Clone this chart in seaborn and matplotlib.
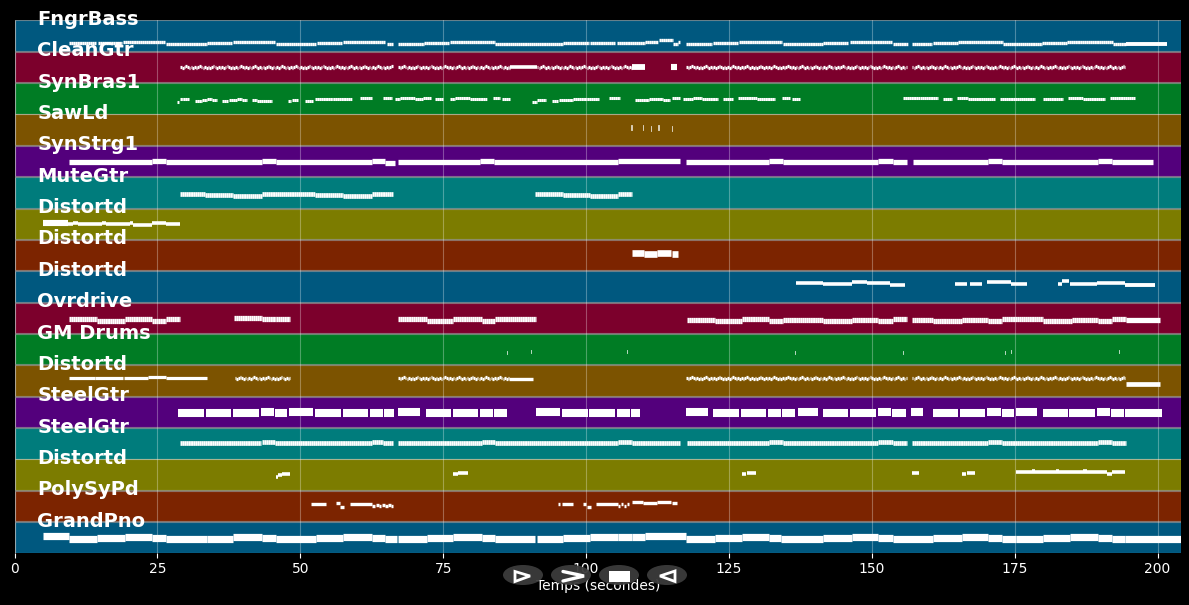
import matplotlib
matplotlib.use("Agg")
import matplotlib.pyplot as plt
from matplotlib.patches import Ellipse, Polygon, Rectangle
import pandas as pd
import seaborn as sns

# track names, top to bottom
track_names = ["FngrBass", "CleanGtr", "SynBras1", "SawLd", "SynStrg1", "MuteGtr", "Distortd", "Distortd",
               "Distortd", "Ovrdrive", "GM Drums", "Distortd", "SteelGtr", "SteelGtr", "Distortd",
               "PolySyPd", "GrandPno"]
band_colors = ["#00587f", "#7c002c", "#007c24", "#7c5300", "#53007c", "#007c7c", "#7c7c00", "#7c2400"]
time_ticks = [0, 25, 50, 75, 100, 125, 150, 175, 200]
song_end = 204.1

# notes: (start s, end s, pitch)
fngrbass = [(9.6, 14.2, 8), (14.6, 18.8, 8), (19.0, 26.3, 9), (26.5, 33.7, 7), (33.7, 38.1, 8), (38.2, 45.6, 9),
            (45.8, 52.8, 7), (52.9, 57.3, 8), (57.5, 64.8, 9), (65.2, 66.2, 7.6), (67.1, 71.7, 7), (71.7, 76, 8),
            (76.2, 84.1, 9), (84.1, 96, 7), (96, 100.5, 8), (100.7, 105.1, 8.5), (105.4, 110.3, 8.5),
            (110.3, 112.6, 9.7), (112.8, 115.2, 11.3), (115.2, 116.1, 7.3), (116.1, 116.5, 9), (117.5, 122.1, 7),
            (122.2, 126.6, 8), (126.8, 134.3, 9), (134.5, 141.5, 7), (141.5, 145.9, 8), (146.2, 153.5, 9),
            (153.7, 156.4, 7), (157, 160.6, 7), (160.7, 165, 8), (165.1, 173, 9), (173, 179.8, 7), (179.8, 184.2, 8),
            (184.2, 192.2, 9), (192.2, 194.5, 7)]
sawld = [(28.4, 28.8, 12.5), (29, 29.5, 15.5), (29.5, 30.5, 15), (31.6, 32.8, 13), (32.8, 33.7, 14),
         (33.7, 34.6, 15.5), (34.6, 35.4, 14.5), (36.3, 37.4, 13), (37.5, 38.9, 14), (38.9, 39.8, 15.5),
         (39.8, 40.7, 14.5), (41.6, 42.4, 14.5), (42.4, 43.5, 13.5), (43.5, 45, 13), (47.9, 48.4, 13),
         (48.6, 49.6, 14.5), (50.8, 52.2, 13.5), (52.6, 55.7, 15.5), (55.7, 59, 15), (60.5, 62.6, 16.3),
         (64.5, 66.1, 16), (66.6, 67.5, 15), (67.5, 70.1, 16.3), (70.1, 71.5, 15.5), (71.5, 72.9, 16.3),
         (73.6, 75, 15), (76.2, 77.1, 15.5), (77.1, 79.7, 16.5), (79.7, 82.7, 15.5), (83.7, 85, 16.5),
         (85.3, 86.7, 15.5), (90.6, 91.4, 12.5), (91.4, 93, 14.5), (94.1, 95.1, 13), (95.3, 97.7, 14.5),
         (97.7, 100.2, 15), (100.2, 102.3, 15.5), (104, 105.9, 16), (108.6, 111, 14.5), (111, 113.5, 15),
         (113.5, 114.7, 14.5), (115, 116.5, 16), (117, 118.7, 15.5), (118.7, 120.3, 16.5), (120.3, 123.1, 15),
         (124, 125.7, 15), (126.6, 129.9, 16), (129.9, 133, 15), (134.3, 135.7, 16), (136, 137.4, 15.5),
         (155.5, 158.5, 15.7), (158.5, 161.6, 15.7), (162.5, 164, 15.2), (164.9, 166.9, 15.7), (166.9, 171.6, 15.2),
         (172.4, 178.6, 15.5), (180, 183.5, 15.2), (184.4, 187, 15.7), (187, 190.8, 15.2), (191.7, 196.1, 15.7)]
synstrg = [(107.9, 108.2, 17.4), (110, 110.2, 17), (111.4, 111.6, 16), (112.6, 112.9, 17), (115.1, 115.3, 16)]
mutegtr = [(9.5, 24.1, 14.5), (24.1, 26.5, 16), (26.5, 43.3, 14.5), (43.3, 45.8, 16), (45.8, 62.6, 14.5),
           (62.6, 64.8, 16), (64.8, 66.6, 14), (67.1, 81.5, 14.5), (81.5, 83.9, 16), (83.9, 105.6, 14.5),
           (105.6, 116.5, 16), (117.5, 132, 14.5), (132, 134.5, 16), (134.5, 151.1, 14.5), (151.1, 153.7, 16),
           (153.7, 156.2, 14.5), (157.2, 170.4, 14.5), (170.4, 172.8, 16), (172.8, 189.6, 14.5), (189.6, 192.1, 16),
           (192.1, 199.2, 14.5)]
distortd_a = [(29, 33.3, 13.8), (33.3, 38.2, 13.2), (38.2, 43.3, 12.4), (43.3, 52.6, 13.8), (52.6, 57.5, 13.2),
              (57.5, 62.6, 12.4), (62.6, 66.2, 13.8), (91.1, 96, 13.8), (96, 100.7, 13.2), (100.7, 105.6, 12.4),
              (105.6, 108, 13.8)]
distortd_b = [(9.4, 10.3, 15), (10.3, 11.1, 16), (11.1, 15.3, 15), (15.3, 16, 16), (16, 20.2, 15), (20.2, 20.7, 16),
              (20.7, 24.1, 14.8), (24.1, 26.5, 16), (26.5, 29, 15)]
distortd_c = [(108, 110.1, 17.5), (110.1, 112.4, 16.8), (112.4, 114.9, 18), (115.1, 116.1, 16.8)]
ovrdrive = [(136.7, 141.5, 18.8), (141.5, 146.6, 18.1), (146.6, 149.2, 20.4), (149.2, 153.2, 18.8),
            (153.2, 155.8, 17.1), (164.6, 166.7, 17.8), (167.2, 169.3, 18), (170.2, 174.4, 19.8), (174.4, 177.2, 17.8),
            (182.6, 183.3, 17.8), (183.3, 184.5, 21), (184.7, 186.5, 17.8), (186.5, 189.4, 18.1), (189.4, 194.3, 18.8)]
gm_drums = [(9.5, 14.4, 14.2), (14.4, 19.3, 12.5), (19.3, 24.1, 14.2), (24.1, 26.5, 12.5), (26.5, 29, 14.5),
            (38.4, 43.3, 15.8), (43.3, 45.8, 14.5), (45.8, 48.2, 14.2), (67.1, 72.2, 14.2), (72.2, 76.7, 12.5),
            (76.7, 81.8, 14.2), (81.8, 84.1, 12.5), (84.1, 91.3, 14.5), (117.7, 122.6, 14), (122.6, 127.3, 12.5),
            (127.3, 132, 14.2), (132, 134.5, 12.5), (134.5, 141.5, 14), (141.5, 146.6, 12.5), (146.6, 151.1, 13.5),
            (151.1, 153.7, 12.5), (153.7, 156.2, 14.2), (157, 160.7, 13.5), (160.7, 165.8, 12.5), (165.8, 170.4, 13.5),
            (170.4, 172.8, 12.5), (172.8, 180, 14.2), (180, 185, 12.5), (185, 189.6, 13.5), (189.6, 192.1, 12.5),
            (192.1, 194.5, 14.2)]
distortd_d = [(86.2, 86.4, 12), (90.4, 90.6, 12.4), (107.2, 107.4, 12.4), (136.6, 136.8, 12), (155.5, 155.7, 12),
              (173.3, 173.5, 12), (174.4, 174.6, 12.8), (193.3, 193.5, 12.4)]
steelgtr_a = [(9.5, 14, 18), (14.1, 19, 18), (19.2, 23.4, 18), (23.4, 26.5, 19), (26.5, 33.7, 18)]
steelgtr_b = [(28.6, 33.2, 14.2), (33.5, 37.9, 14.2), (38.2, 42.8, 14.2), (43.1, 45.4, 15.2), (45.6, 47.7, 15),
              (48, 52.2, 15.8), (52.6, 57.1, 14.2), (57.5, 61.9, 14.2), (62.2, 64.5, 15), (64.7, 66.4, 15),
              (67.1, 71, 15.8), (72, 76.4, 14.5), (76.7, 81.1, 14.5), (81.5, 83.7, 14.8), (83.9, 86.2, 14.8),
              (91.3, 95.5, 15.8), (95.8, 100.4, 14.5), (100.5, 105.1, 14.5), (105.4, 107.7, 14.8), (107.9, 109.5, 14.5),
              (117.5, 121.4, 15.8), (122.2, 126.8, 14.5), (127.1, 131.5, 14.5), (131.9, 134.1, 14.8), (134.3, 136.6, 14.8),
              (137, 140.5, 15.8), (141.5, 145.9, 14.5), (146.2, 150.8, 14.5), (151.1, 153.4, 15.3), (153.6, 155.9, 15),
              (156.9, 159, 15.8), (160.7, 165.1, 14.5), (165.4, 169.8, 14.5), (170.2, 172.6, 15.3), (172.8, 174.9, 15),
              (175.3, 178.9, 15.8), (180, 184.4, 14.5), (184.5, 189.1, 14.5), (189.4, 191.7, 15.3), (191.9, 194.2, 15),
              (194.3, 200.8, 14.5)]
distortd_e = [(29, 43.1, 15.6), (43.3, 45.6, 17), (45.6, 62.6, 15.6), (62.6, 64.5, 17.2), (64.5, 66.2, 15.6),
              (67.1, 81.8, 15.6), (81.8, 84.1, 17.2), (84.1, 105.6, 15.6), (105.6, 108, 17.2), (108, 116.5, 15.6),
              (117.7, 132, 15.6), (132, 134.5, 17.2), (134.5, 151.1, 15.6), (151.1, 153.7, 17.2), (153.7, 156.2, 15.6),
              (157, 170.4, 15.6), (170.4, 172.8, 17.2), (172.8, 189.6, 15.6), (189.6, 192.1, 17.2), (192.1, 194.5, 15.6)]
polysypd = [(45.8, 46.1, 13.2), (46.1, 46.8, 15), (46.8, 48.2, 16), (76.7, 77.6, 16), (77.6, 79.4, 17.2),
            (127.3, 128, 16), (128.2, 129.8, 17.2), (157, 158.2, 17), (165.8, 166.5, 16), (166.7, 168.1, 17.2),
            (175.3, 178.1, 18), (178, 178.6, 18.8), (178.1, 182.5, 18), (182.3, 182.8, 18.8), (182.5, 187, 18),
            (187, 187.6, 18.8), (187, 191.2, 18), (191.2, 192.1, 16.6), (192.1, 194.3, 18)]
distortd_f = [(51.9, 54.5, 17.6), (56.3, 57, 18.3), (57, 57.7, 14.9), (58.7, 62.6, 17.6), (62.6, 63.1, 15.5),
              (63.2, 63.7, 17), (63.8, 64.2, 15.5), (64.3, 64.8, 17), (64.9, 65.3, 15.5), (65.4, 65.8, 17),
              (65.8, 66.2, 16), (95.1, 95.5, 17.3), (95.8, 97.7, 17.3), (99.5, 100, 17.3), (100.2, 100.9, 14.9),
              (101.7, 105.6, 17.3), (105.6, 106, 15.5), (106.1, 106.5, 17.5), (106.6, 107, 15.5), (107.1, 107.5, 17.5),
              (108, 110, 19.3), (110, 112.4, 18.3), (112.4, 114.9, 19.3), (115.1, 115.9, 18.3)]
grandpno = [(5, 9.5, 17), (9.5, 14.4, 14.3), (14.4, 19.3, 15.3), (19.3, 24.1, 16.3), (24.1, 26.5, 15.3), (26.5, 33.7, 14),
            (33.7, 38.2, 14.3), (38.2, 43.3, 16.3), (43.3, 45.8, 15.3), (45.8, 52.8, 14), (52.8, 57.5, 15),
            (57.5, 62.6, 16.3), (62.6, 64.8, 15.3), (64.8, 67, 14.3), (67.1, 72.2, 14.3), (72.2, 76.7, 15.3),
            (76.7, 81.8, 16.3), (81.8, 84.1, 15.3), (84.1, 91.1, 14), (91.5, 96, 14.3), (96, 100.7, 15.3),
            (100.7, 105.6, 16.3), (105.6, 108, 15.6), (108, 110.3, 16), (110.3, 117.5, 17.2), (117.5, 122.6, 14.3),
            (122.6, 127.3, 15.3), (127.3, 132, 16.3), (132, 134.1, 15.3), (134.1, 141.5, 14.2), (141.5, 146.6, 15.3),
            (146.6, 151.1, 16), (151.1, 153.7, 15.3), (153.7, 160.7, 14), (160.7, 165.8, 15), (165.8, 170.4, 16),
            (170.4, 172.8, 15), (172.8, 175.3, 14.3), (175.3, 180, 14), (180, 184.7, 15), (184.7, 189.6, 16),
            (189.6, 192.1, 15), (192.1, 194.3, 14.3), (194.3, 204.1, 14)]

riff_pitch = [16, 15.4, 16, 16.7, 16, 15.4, 16, 15.4]
riff_step = 0.3
cleangtr_parts = [(29, 66.2), (67.1, 86.7), (91.4, 108), (117.5, 156.2), (157, 194.3)]
synbras_parts = [(38.5, 48.2), (67.1, 86.5), (117.5, 156.2), (157, 194.3)]

# held notes that are drawn heavier: (track, start, end, pitch, width)
held_notes = [(0, 194.5, 201.7, 7, 2.8), (1, 86.7, 91.4, 15.7, 2.6), (1, 108, 110.3, 15.7, 4.2), (1, 114.9, 115.9, 15.7, 4.4),
              (6, 5, 9.4, 16.7, 4.4), (8, 194.3, 199.6, 16.8, 2.8), (9, 194.5, 200.5, 13.2, 3.8),
              (11, 86.5, 90.7, 17, 2.4), (11, 194.5, 200.5, 12.2, 3.4)]

track_width = [2.4, 2.3, 2.2, 4.2, 3.8, 3.4, 2.6, 4.8, 2.6, 3.8, 2.8, 2.3, 5.8, 3.4, 2.6, 2.4, 5.2]
dashed_tracks = [0, 2, 5, 9, 13]

track_notes = {0: fngrbass, 2: sawld, 3: synstrg, 4: mutegtr, 5: distortd_a, 6: distortd_b, 7: distortd_c, 8: ovrdrive,
               9: gm_drums, 10: distortd_d, 11: steelgtr_a, 12: steelgtr_b, 13: distortd_e, 14: polysypd,
               15: distortd_f, 16: grandpno}


def riff_notes(parts, base):
    out = []
    for start, end in parts:
        t = start
        k = 0
        while t < end:
            out.append((t, min(t + riff_step - 0.02, end), base + riff_pitch[k % 8] - 16))
            t += riff_step
            k += 1
    return out


track_notes[1] = riff_notes(cleangtr_parts, 15.7)
track_notes[11] = track_notes[11] + riff_notes(synbras_parts, 18.2)

# one row per note end, band height is 31.35 pitch units
rows = []
for track, notes in track_notes.items():
    for n, (start, end, pitch) in enumerate(notes):
        y = track + 0.5 - pitch / 31.35
        rows.append((track, track_width[track], track in dashed_tracks, n, start, y))
        rows.append((track, track_width[track], track in dashed_tracks, n, end, y))
for n, (track, start, end, pitch, width) in enumerate(held_notes):
    y = track + 0.5 - pitch / 31.35
    rows.append((track, width, False, 1000 + n, start, y))
    rows.append((track, width, False, 1000 + n, end, y))
notes_df = pd.DataFrame(rows, columns=["track", "width", "dashed", "note", "time", "y"])

sns.set_theme(style="dark", rc={"figure.facecolor": "black", "axes.facecolor": "black", "savefig.facecolor": "black",
                                "xtick.color": "white", "text.color": "white", "axes.labelcolor": "white",
                                "xtick.bottom": True, "lines.scale_dashes": False})
plt.rcParams["font.family"] = ["DejaVu Sans"]

fig = plt.figure(figsize=(11.89, 6.05), dpi=100)
ax = fig.add_axes([14.5 / 1189, 1 - 553 / 605, (1181 - 14.5) / 1189, 533 / 605])

bands = pd.DataFrame({"track": range(len(track_names)), "length": song_end})
palette = [band_colors[i % len(band_colors)] for i in range(len(track_names))]
sns.barplot(data=bands, x="length", y="track", hue="track", palette=palette, orient="h", native_scale=True,
            saturation=1, width=0.975, edgecolor=(1, 1, 1, 0.4), linewidth=0.8, legend=False, ax=ax)

for (track, width, dashed), part in notes_df.groupby(["track", "width", "dashed"]):
    before = len(ax.lines)
    sns.lineplot(data=part, x="time", y="y", units="note", estimator=None, sort=False, color="white",
                 linewidth=width, solid_capstyle="butt", legend=False, ax=ax)
    for line in ax.lines[before:]:
        line.set_zorder(3)
        if track in (3, 10):
            line.set_alpha(0.7)
        if dashed:
            line.set_dashes([1.4, 0.12])
            line.set_dash_capstyle("butt")

ax.set_xlim(0, song_end)
ax.set_ylim(len(track_names) - 0.5, -0.5)
ax.set_xticks(time_ticks)
ax.set_yticks([])
ax.tick_params(axis="x", length=3.5, width=0.8, labelsize=10, color="white", pad=3)
ax.grid(axis="x", color="white", alpha=0.3, linewidth=0.8)
ax.set_axisbelow(False)
ax.set_xlabel("Temps (secondes)", fontsize=10, labelpad=2)
ax.set_ylabel("")
for side in ax.spines.values():
    side.set_visible(False)

for i, name in enumerate(track_names):
    ax.text(4.0, i - 0.34, name, color="white", fontsize=14, fontweight="bold", va="baseline", ha="left", zorder=5)

# playback buttons on top, in figure pixels
over = fig.add_axes([0, 0, 1, 1])
over.set_xlim(0, 1189)
over.set_ylim(605, 0)
over.axis("off")
over.patch.set_alpha(0)
for cx in [523, 571, 619, 667]:
    over.add_patch(Ellipse((cx, 575), 40, 20, color="#3c3c3c", alpha=0.95, lw=0))
over.add_patch(Polygon([(515, 571.5), (530, 576), (515, 581.5)], closed=True, fill=False, edgecolor="white", lw=2))
over.plot([563, 584, 563], [571.5, 576, 581], color="white", lw=2.4, solid_joinstyle="miter")
over.add_patch(Rectangle((609, 571), 21, 11, color="white", lw=0))
over.add_patch(Polygon([(675, 571), (660, 576), (675, 581.5)], closed=True, fill=False, edgecolor="white", lw=2))

fig.savefig("out.png", dpi=100)
